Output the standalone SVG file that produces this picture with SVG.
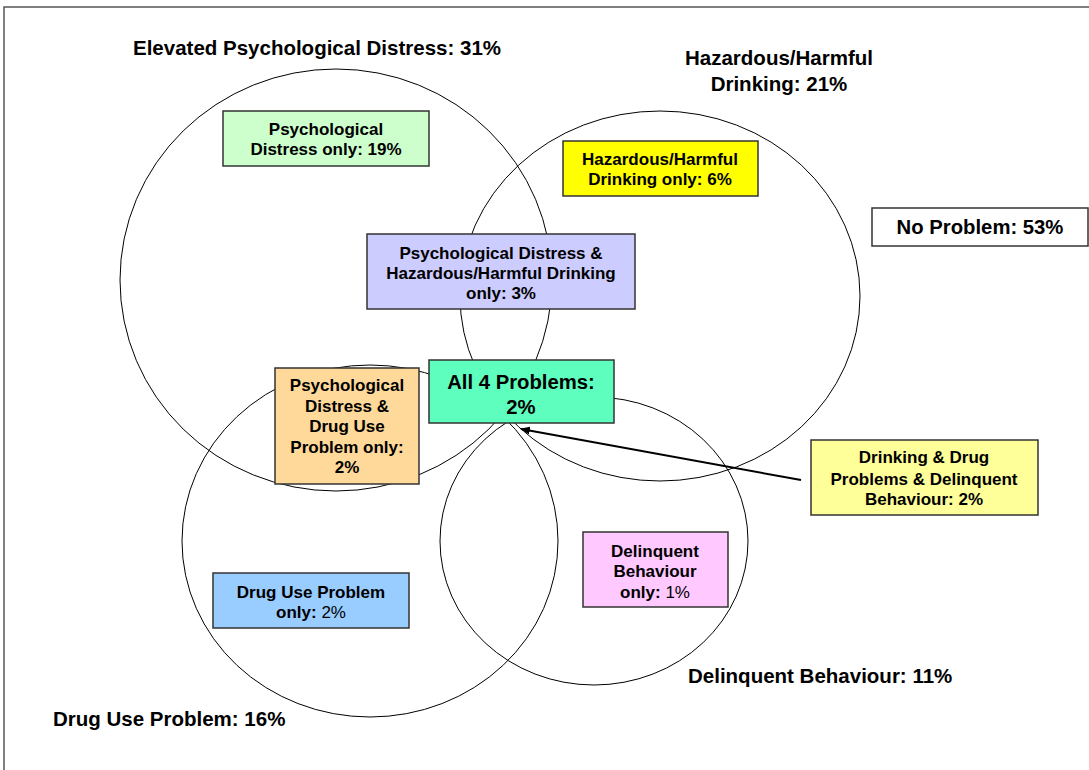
<svg xmlns="http://www.w3.org/2000/svg" width="1089" height="770" viewBox="0 0 1089 770">
<style>
text{font-family:"Liberation Sans",Arial,sans-serif;font-weight:bold;fill:#000}
.h{font-size:20.5px}
.b{font-size:17px;text-anchor:middle}
.big{font-size:20.3px;text-anchor:middle}
.n{font-weight:normal}
.box{stroke:#333;stroke-width:1.5}
.c{fill:none;stroke:#000;stroke-width:1}
</style>
<defs>
<marker id="arr" markerWidth="10" markerHeight="8" refX="9" refY="4" orient="auto" markerUnits="userSpaceOnUse">
<path d="M0,0 L10,4 L0,8 z" fill="#000"/>
</marker>
</defs>
<rect x="0" y="0" width="1089" height="770" fill="#fff"/>
<rect x="4" y="7" width="1100" height="780" fill="none" stroke="#555" stroke-width="1.5"/>
<g id="circles">
<ellipse class="c" cx="336" cy="280" rx="216" ry="211"/>
<ellipse class="c" cx="660" cy="296" rx="200" ry="185"/>
<ellipse class="c" cx="370" cy="541" rx="188" ry="176"/>
<ellipse class="c" cx="594" cy="541" rx="154" ry="144"/>
</g>
<g id="labels">
<text class="h" x="317" y="55" text-anchor="middle">Elevated Psychological Distress: 31%</text>
<text class="h" x="779" y="65" text-anchor="middle">Hazardous/Harmful</text>
<text class="h" x="779" y="91" text-anchor="middle">Drinking: 21%</text>
<text class="h" x="53" y="726">Drug Use Problem: 16%</text>
<text class="h" x="688" y="683">Delinquent Behaviour: 11%</text>
</g>
<g id="connectors">
<line x1="801" y1="480" x2="521" y2="429" stroke="#000" stroke-width="2" marker-end="url(#arr)"/>
</g>
<g id="pd-only">
<rect class="box" x="223" y="111" width="206" height="55" fill="#CCFFCC"/>
<text class="b" x="326" y="135">Psychological</text>
<text class="b" x="326" y="155">Distress only: 19%</text>
</g>
<g id="hhd-only">
<rect class="box" x="563" y="141" width="195" height="55" fill="#FFFF00"/>
<text class="b" x="660" y="165">Hazardous/Harmful</text>
<text class="b" x="660" y="185">Drinking only: 6%</text>
</g>
<g id="pd-hhd">
<rect class="box" x="367" y="234" width="268" height="75" fill="#CCCCFF"/>
<text class="b" x="501" y="259">Psychological Distress &amp;</text>
<text class="b" x="501" y="279">Hazardous/Harmful Drinking</text>
<text class="b" x="501" y="299">only: 3%</text>
</g>
<g id="no-problem">
<rect class="box" x="872" y="208" width="216" height="38" fill="#FFFFFF"/>
<text class="big" x="980" y="234">No Problem: 53%</text>
</g>
<g id="pd-drug">
<rect class="box" x="275" y="368" width="144" height="116" fill="#FFD999"/>
<text class="b" x="347" y="391">Psychological</text>
<text class="b" x="347" y="412">Distress &amp;</text>
<text class="b" x="347" y="432">Drug Use</text>
<text class="b" x="347" y="453">Problem only:</text>
<text class="b" x="347" y="473">2%</text>
</g>
<g id="all4">
<rect class="box" x="429" y="360" width="185" height="63" fill="#5EFFBE"/>
<text class="big" x="521" y="389">All 4 Problems:</text>
<text class="big" x="521" y="414">2%</text>
</g>
<g id="drink-drug-delinq">
<rect class="box" x="811" y="440" width="227" height="75" fill="#FFFF99"/>
<text class="b" x="924" y="463">Drinking &amp; Drug</text>
<text class="b" x="924" y="485">Problems &amp; Delinquent</text>
<text class="b" x="924" y="505">Behaviour: 2%</text>
</g>
<g id="delinq-only">
<rect class="box" x="583" y="532" width="145" height="75" fill="#FFC8FF"/>
<text class="b" x="655" y="557">Delinquent</text>
<text class="b" x="655" y="577">Behaviour</text>
<text class="b" x="655" y="598">only: <tspan class="n">1%</tspan></text>
</g>
<g id="drug-only">
<rect class="box" x="213" y="573" width="196" height="55" fill="#99CCFF"/>
<text class="b" x="311" y="598">Drug Use Problem</text>
<text class="b" x="311" y="618">only: <tspan class="n">2%</tspan></text>
</g>
</svg>
